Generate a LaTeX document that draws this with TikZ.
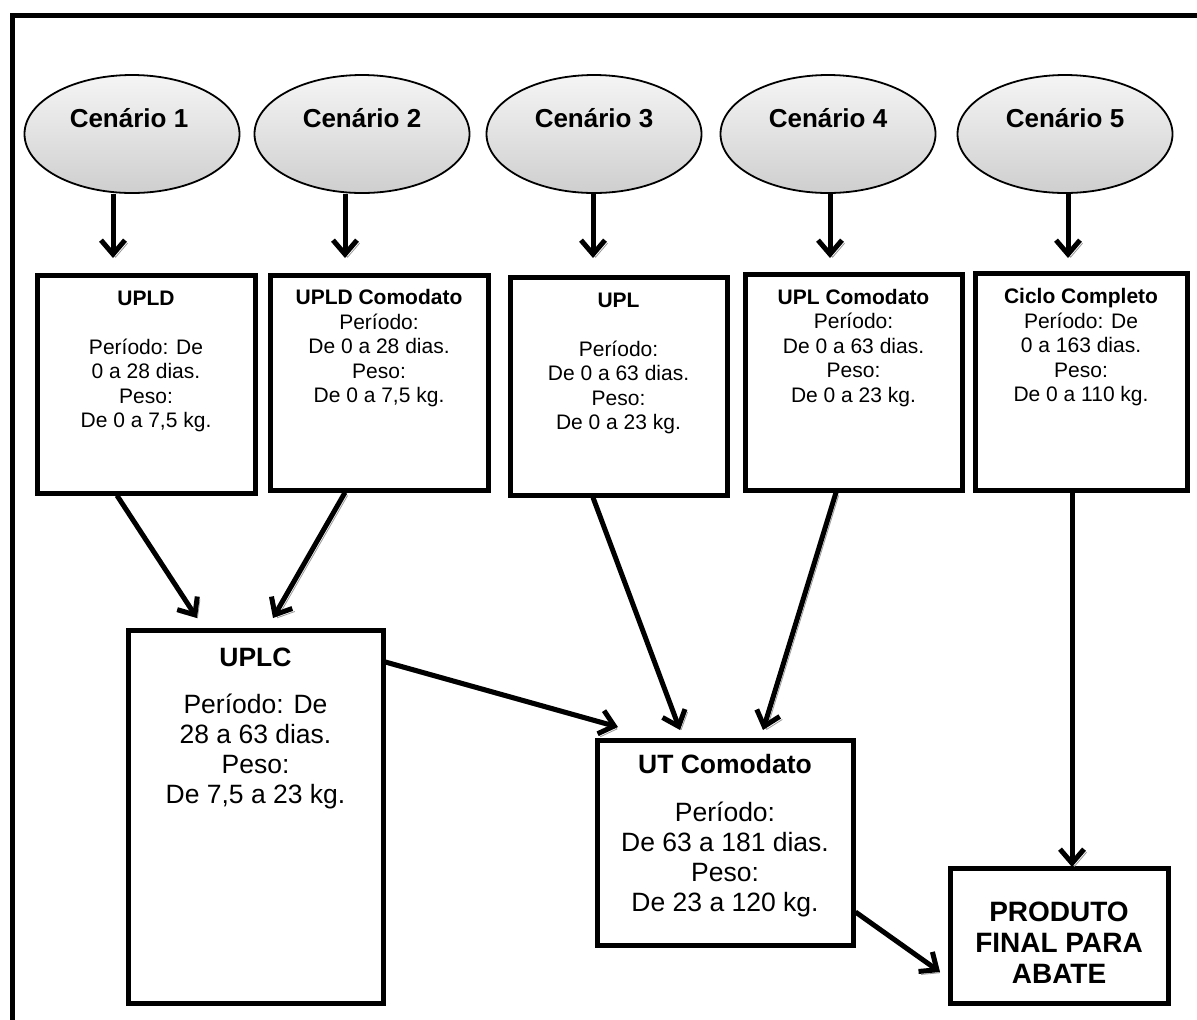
\documentclass[tikz,border=0pt]{standalone}
\usepackage{fontspec}
\setmainfont{Liberation Sans}
\usetikzlibrary{arrows.meta,shapes.geometric,calc}
\begin{document}
\begin{tikzpicture}[x=0.5pt,y=-0.5pt,
  bx/.style={draw, line width=2.5pt, fill=white, inner sep=0pt, rectangle},
  cen/.style={ellipse, draw, line width=0.9pt, top color=gray!8, bottom color=gray!38, inner sep=0pt, minimum width=107.5pt, minimum height=59pt},
  centxt/.style={font=\fontsize{13}{15}\selectfont\bfseries},
  smalltxt/.style={align=center, font=\fontsize{10.5}{12.25}\selectfont, inner sep=0pt},
  bigtxt/.style={align=center, font=\fontsize{13.25}{15}\selectfont, inner sep=0pt},
  arr/.style={line width=2.5pt, -{Straight Barb[length=7pt,width=12pt]},
    preaction={draw=black!40, transform canvas={xshift=1.3pt,yshift=-1.5pt}}}
]
\useasboundingbox (0,0) rectangle (1197,1019);
\clip (0,0) rectangle (1197,1019);
\node[draw, line width=2.5pt, minimum width=610pt, minimum height=515pt, anchor=north west, inner sep=0pt] (frame) at (9.5,12.5) {};

% scenarios
\node[cen] (e1) at (132,134) {};
\node[cen] (e2) at (362,134) {};
\node[cen] (e3) at (594,134) {};
\node[cen] (e4) at (828,134) {};
\node[cen] (e5) at (1065,134) {};
\node[centxt] (c1) at (129,118) {Cenário 1};
\node[centxt] (c2) at (362,118) {Cenário 2};
\node[centxt] (c3) at (594,118) {Cenário 3};
\node[centxt] (c4) at (828,118) {Cenário 4};
\node[centxt] (c5) at (1065,118) {Cenário 5};

% first row boxes
\node[bx, minimum width=109pt, minimum height=109pt] (b1) at (146,384) {};
\node[bx, minimum width=109pt, minimum height=107.5pt] (b2) at (379,382.5) {};
\node[bx, minimum width=108.5pt, minimum height=109pt] (b3) at (618.5,386) {};
\node[bx, minimum width=108.5pt, minimum height=108pt] (b4) at (853.5,382) {};
\node[bx, minimum width=106pt, minimum height=108.5pt] (b5) at (1081,381.5) {};

\node[smalltxt] (t1) at (146,361.5) {\textbf{UPLD}\\ \\Período: De\\0 a 28 dias.\\Peso:\\De 0 a 7,5 kg.};
\node[smalltxt] (t2) at (379,348.5) {\textbf{UPLD Comodato}\\Período:\\De 0 a 28 dias.\\Peso:\\De 0 a 7,5 kg.};
\node[smalltxt] (t3) at (618.5,363.5) {\textbf{UPL}\\ \\Período:\\De 0 a 63 dias.\\Peso:\\De 0 a 23 kg.};
\node[smalltxt] (t4) at (853.5,348) {\textbf{UPL Comodato}\\Período:\\De 0 a 63 dias.\\Peso:\\De 0 a 23 kg.};
\node[smalltxt] (t5) at (1081,347.5) {\textbf{Ciclo Completo}\\Período: De\\0 a 163 dias.\\Peso:\\De 0 a 110 kg.};

% lower boxes
\node[bx, minimum width=127.5pt, minimum height=186.5pt] (uplc) at (255.5,816.5) {};
\node[bx, minimum width=128pt, minimum height=102.5pt] (ut) at (725,842.5) {};
\node[bx, minimum width=109pt, minimum height=67.5pt] (pf) at (1059,935.5) {};

\node[bigtxt] (tu) at (255.5,728.5) {\textbf{UPLC}\\[8.5pt]Período: De\\28 a 63 dias.\\Peso:\\De 7,5 a 23 kg.};
\node[bigtxt] (tt) at (725,836) {\textbf{UT Comodato}\\[9pt]Período:\\De 63 a 181 dias.\\Peso:\\De 23 a 120 kg.};
\node[align=center, inner sep=0pt, font=\fontsize{14}{15.5}\selectfont\bfseries] (tp) at (1059,942.5) {PRODUTO\\FINAL PARA\\ABATE};

% vertical arrows from scenarios
\coordinate (v1) at (113,258);
\coordinate (v2) at (345,258);
\coordinate (v3) at (593,258);
\coordinate (v4) at (830,258);
\coordinate (v5) at (1068,258);
\draw[arr] (e1.south -| v1) -- (v1);
\draw[arr] (e2.south -| v2) -- (v2);
\draw[arr] (e3.south -| v3) -- (v3);
\draw[arr] (e4.south -| v4) -- (v4);
\draw[arr] (e5.south -| v5) -- (v5);

% connectors
\coordinate (s1) at (117,493); \coordinate (p1) at (197,618);
\coordinate (s2) at (345,490); \coordinate (p2) at (273,618);
\coordinate (s3) at (383,662); \coordinate (p3) at (618,727);
\coordinate (s4) at (593,495); \coordinate (p4) at (680,730);
\coordinate (s5) at (836,490); \coordinate (p5) at (763,730);
\coordinate (s6) at (1072,490); \coordinate (p6) at (1072,867);
\coordinate (s7) at (853,912); \coordinate (p7) at (940,972);
\draw[arr] (b1.south -| s1) -- (p1);
\draw[arr] (b2.south -| s2) -- (p2);
\draw[arr] (uplc.east |- s3) -- (p3);
\draw[arr] (b3.south -| s4) -- (p4);
\draw[arr] (b4.south -| s5) -- (p5);
\draw[arr] (b5.south -| s6) -- (p6);
\draw[arr] (ut.east |- s7) -- (p7);
\end{tikzpicture}
\end{document}
